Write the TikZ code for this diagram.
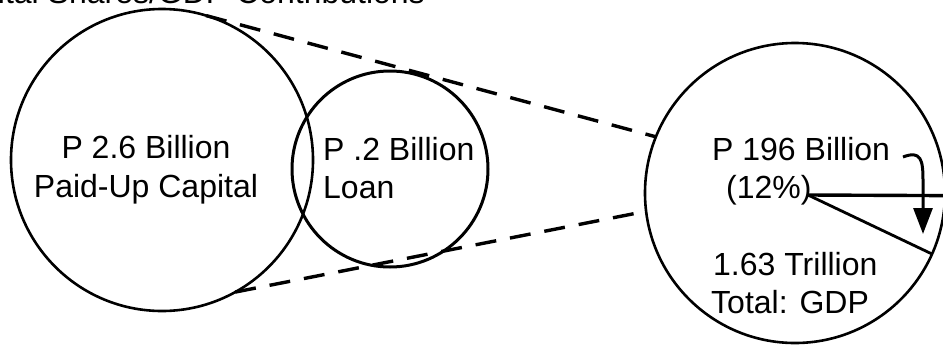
\documentclass[tikz,border=0pt]{standalone}
\usepackage{fontspec}
\setmainfont{Liberation Sans}
\usepackage{tikz}
\usetikzlibrary{arrows.meta,positioning,calc}
\tikzset{
  ring/.style={draw, circle, line width=2.6pt, outer sep=0pt, inner sep=0pt},
  txt/.style={inner sep=0pt, font=\fontsize{32pt}{39pt}\selectfont},
  link/.style={line width=3.4pt, dash pattern=on 21pt off 14pt},
  slice/.style={line width=2.8pt},
  flow/.style={-{Triangle[length=26pt,width=19pt]}, line width=3pt},
}

\begin{document}
\begin{tikzpicture}[x=1pt, y=-1pt]
  \useasboundingbox (0,0) rectangle (943,346);
  \clip (0,0) rectangle (943,346);

  % heading, cut at the top edge
  \node[txt, anchor=base east] (head) at (425,3) {Capital Shares/GDP Contributions};

  % the two fund circles
  \node[ring, minimum size=302pt] (cap) at (162,160) {};
  \node[ring, minimum size=196pt, line width=3pt] (loan) at (390,169) {};
  \node[txt, anchor=base] (cap1) at (146,158) {P 2.6 Billion};
  \node[txt, anchor=base] (cap2) at (146,197) {Paid-Up Capital};
  \node[txt, anchor=base west] (loan1) at (323,160) {P .2 Billion};
  \node[txt, anchor=base west] (loan2) at (323,198) {Loan};

  % gdp circle
  \node[ring, minimum size=300pt] (gdp) at (795,193) {};
  \node[txt, anchor=base west] (share1) at (712,160) {P 196 Billion};
  \node[txt, anchor=base west] (share2) at (726,198) {(12\%)};
  \node[txt, anchor=base west] (gdp1) at (713,275) {1.63 Trillion};
  \node[txt, anchor=base west] (gdp2) at (711,313) {Total: GDP};

  % slice
  \coordinate (apex) at (808,195);
  \draw[slice, line width=3.4pt] (apex) -- (gdp.-1);
  \draw[slice] (apex) -- (gdp.-24);
  \coordinate (from) at (903,157);
  \coordinate (tip) at (923,234);
  \draw[flow] (from) .. controls (921,150) and (923,160) .. (923,180) -- (tip);

  % zoom lines
  \draw[link] (cap.73) -- (gdp.158);
  \draw[link] (cap.-61) -- (gdp.187);
\end{tikzpicture}
\end{document}
